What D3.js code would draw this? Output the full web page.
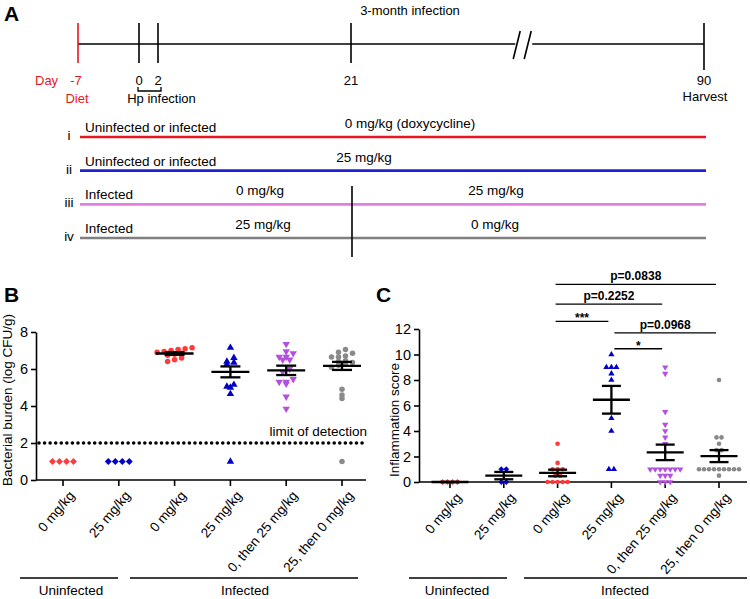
<!DOCTYPE html>
<html><head><meta charset="utf-8">
<script src="https://cdn.jsdelivr.net/npm/d3@7"></script>
<style>
body{margin:0;background:#fff}
svg{display:block;font-family:"Liberation Sans",Arial,Helvetica,sans-serif}
</style>
</head><body>
<svg id="chart" width="750" height="599"></svg>
<script>
// ================= DATA =================
// Panel A: timeline
const timelineDays = [-7, 0, 2, 21, 90];
const treatmentRows = ["i", "ii", "iii", "iv"];
const rowGroups = ["Uninfected or infected", "Uninfected or infected", "Infected", "Infected"];
const rowDoseFirst = ["0 mg/kg (doxycycline)", "25 mg/kg", "0 mg/kg", "25 mg/kg"];
const rowDoseSecond = [null, null, "25 mg/kg", "0 mg/kg"];

// Shared categories for B and C
const categoryLabels = ["0 mg/kg", "25 mg/kg", "0 mg/kg", "25 mg/kg", "0, then 25 mg/kg", "25, then 0 mg/kg"];
const groupLabels = ["Uninfected", "Infected"];

// Panel B: bacterial burden (log CFU/g)
const burdenUninf0 = [1, 1, 1, 1];
const burdenUninf25 = [1, 1, 1, 1];
const burdenInf0 = [7.15, 7.1, 7.05, 7.0, 6.95, 6.9, 6.85, 6.8, 6.75, 6.6, 6.5, 6.4];
const burdenInf25 = [7.15, 6.6, 6.4, 6.35, 6.25, 5.15, 5.05, 5.0, 4.65, 1.0];
const burdenInf0to25 = [7.35, 6.95, 6.85, 6.65, 6.65, 6.5, 6.5, 6.0, 5.85, 5.45, 5.3, 5.3, 5.2, 4.5, 3.85];
const burdenInf25to0 = [7.05, 6.9, 6.85, 6.7, 6.65, 6.65, 6.45, 6.4, 6.35, 6.3, 6.2, 6.1, 4.9, 4.6, 4.4, 1.0];
const limitOfDetection = 2;
const burdenTicks = [0, 2, 4, 6, 8];

// Panel C: inflammation score
const inflUninf0 = [0, 0, 0, 0];
const inflUninf25 = [1, 1, 0, 0];
const inflInf0 = [3, 1.5, 1, 1, 1, 0.5, 0.5, 0, 0, 0, 0, 0];
const inflInf25 = [10, 9, 9, 9, 8.5, 8, 5, 4, 1, 1];
const inflInf0to25 = [9, 8.5, 5.5, 4.5, 4, 3.5, 3, 1, 1, 1, 1, 1, 1, 1, 0.5, 0.5, 0.5, 0, 0, 0];
const inflInf25to0 = [8, 3.5, 3.5, 3, 2.5, 2.5, 1, 1, 1, 1, 1, 1, 1, 1, 1, 0.5];
const inflTicks = [0, 2, 4, 6, 8, 10, 12];

// Panel C comparisons
const compLabels = ["p=0.0838", "p=0.2252", "***", "p=0.0968", "*"];
const compFrom = [2, 2, 2, 3, 3];
const compTo = [5, 4, 3, 5, 4];

// ================= STYLE / LAYOUT =================
const svg = d3.select("#chart");
const colRed = "#ff3b3b", colBlue = "#0000c8", colPurple = "#b450e0", colGray = "#8a8a8a";
const groupColors = [colRed, colBlue, colRed, colBlue, colPurple, colGray];
const symDiamond = { draw(ctx, size) { const r = Math.sqrt(size / 2); ctx.moveTo(0, -r); ctx.lineTo(r, 0); ctx.lineTo(0, r); ctx.lineTo(-r, 0); ctx.closePath(); } };
const groupSymbols = [symDiamond, symDiamond, d3.symbolCircle, d3.symbolTriangle, "down", d3.symbolCircle];
const compHeight = [15.5, 13.95, 12.6, 11.7, 10.45];

function panelLetter(t, x, y) {
  svg.append("text").attr("x", x).attr("y", y).attr("font-size", 21).attr("font-weight", "bold").text(t);
}

// ================= PANEL A =================
panelLetter("A", 4, 21);
const xDay = d3.scaleLinear().domain(timelineDays).range([78, 139, 158, 351, 704]);
const gA = svg.append("g");
const tlY = 44;
const breakX = xDay(21) + 0.485 * (xDay(90) - xDay(21));
gA.append("line").attr("x1", xDay(-7)).attr("x2", breakX - 7).attr("y1", tlY).attr("y2", tlY).attr("stroke", "#000").attr("stroke-width", 1.6);
gA.append("line").attr("x1", breakX + 10).attr("x2", xDay(90)).attr("y1", tlY).attr("y2", tlY).attr("stroke", "#000").attr("stroke-width", 1.6);
[-9, 2].forEach(o => {
  gA.append("line").attr("x1", breakX + o).attr("y1", tlY + 15).attr("x2", breakX + o + 7).attr("y2", tlY - 13).attr("stroke", "#000").attr("stroke-width", 1.6);
});
timelineDays.forEach(d => {
  gA.append("line").attr("x1", xDay(d)).attr("x2", xDay(d)).attr("y1", 23).attr("y2", d === 90 ? 70 : 63)
    .attr("stroke", d === -7 ? "#e8161e" : "#000").attr("stroke-width", 1.6);
  gA.append("text").attr("x", xDay(d) + (d === -7 ? -2 : 0)).attr("y", 85).attr("text-anchor", "middle")
    .attr("font-size", 13).attr("fill", d === -7 ? "#e8161e" : "#000").text(d);
});
gA.append("text").attr("x", 35).attr("y", 85).attr("font-size", 13).attr("fill", "#e8161e").text("Day");
gA.append("text").attr("x", xDay(-7) - 1).attr("y", 103).attr("text-anchor", "middle").attr("font-size", 13).attr("fill", "#e8161e").text("Diet");
gA.append("path").attr("d", `M${xDay(0) - 1},87V91H${xDay(2) + 3}V87`).attr("fill", "none").attr("stroke", "#000").attr("stroke-width", 1.3);
gA.append("text").attr("x", (xDay(0) + xDay(2)) / 2 + 13).attr("y", 103).attr("text-anchor", "middle").attr("font-size", 13).text("Hp infection");
gA.append("text").attr("x", xDay(90) + 1).attr("y", 101).attr("text-anchor", "middle").attr("font-size", 13).text("Harvest");
gA.append("text").attr("x", 410).attr("y", 15).attr("text-anchor", "middle").attr("font-size", 13).text("3-month infection");

const rowY = d3.scalePoint().domain(treatmentRows).range([137, 238]);
const rowColors = ["#e8161e", "#2020d8", "#e47ce6", "#7f7f7f"];
const doseFirstX = [410, 364, 260, 263];
const doseSecondX = [null, null, 496, 495];
treatmentRows.forEach((r, i) => {
  const y = rowY(r);
  gA.append("line").attr("x1", 80).attr("x2", 706).attr("y1", y).attr("y2", y).attr("stroke", rowColors[i]).attr("stroke-width", 2.6);
  gA.append("text").attr("x", 69).attr("y", y + 3).attr("text-anchor", "middle").attr("font-size", 13.5).text(r);
  gA.append("text").attr("x", 85).attr("y", y - 5).attr("font-size", 13.5).text(rowGroups[i]);
  gA.append("text").attr("x", doseFirstX[i]).attr("y", y - 9).attr("text-anchor", "middle").attr("font-size", 13.5).text(rowDoseFirst[i]);
  if (rowDoseSecond[i]) gA.append("text").attr("x", doseSecondX[i]).attr("y", y - 9).attr("text-anchor", "middle").attr("font-size", 13.5).text(rowDoseSecond[i]);
});
gA.append("line").attr("x1", xDay(21) + 1).attr("x2", xDay(21) + 1).attr("y1", 186).attr("y2", 257).attr("stroke", "#000").attr("stroke-width", 1.6);

// ================= helpers for B/C =================
function swarm(values, yScale, cx, d, binH) {
  const pts = values.map(v => ({ v, y: yScale(v) }));
  const bins = d3.group(pts, p => Math.round(p.y / binH));
  bins.forEach(arr => {
    arr.sort((a, b) => a.v - b.v);
    const n = arr.length;
    arr.forEach((p, i) => { p.x = cx + (i - (n - 1) / 2) * d; });
  });
  return pts;
}
function symbolPath(sym, size) {
  if (sym === "down") return d3.symbol(d3.symbolTriangle, size)();
  return d3.symbol(sym, size)();
}
function drawPanel(opts) {
  const { g, x, y, groups, axisX0, axisX1, ticks, yLabel, yLabelX, yLabelY, ptSize, spread, binH, meanW, capW, lodFilter, groupSpans, groupLabelX } = opts;
  const yAxis = d3.axisLeft(y).tickValues(ticks).tickSize(5).tickSizeOuter(0).tickPadding(3);
  const ya = g.append("g").attr("transform", `translate(${axisX0},0)`).call(yAxis);
  ya.select(".domain").attr("stroke-width", 1.6);
  ya.selectAll(".tick line").attr("stroke-width", 1.6);
  ya.selectAll("text").attr("font-size", 14.5).attr("font-family", null).attr("fill", "#000");
  const y0 = y(0);
  g.append("line").attr("x1", axisX0).attr("x2", axisX1).attr("y1", y0).attr("y2", y0).attr("stroke", "#000").attr("stroke-width", 1.6);
  categoryLabels.forEach((lab, i) => {
    g.append("line").attr("x1", x(i)).attr("x2", x(i)).attr("y1", y0).attr("y2", y0 + 6).attr("stroke", "#000").attr("stroke-width", 1.6);
    g.append("text").attr("transform", `translate(${x(i) + 5},${y0 + 10}) rotate(-50)`).attr("text-anchor", "end")
      .attr("dy", "0.7em").attr("font-size", 13.5).text(lab);
  });
  g.append("text").attr("transform", `translate(${yLabelX},${yLabelY}) rotate(-90)`).attr("text-anchor", "middle").attr("font-size", 13.5).text(yLabel);
  groups.forEach((vals, i) => {
    const pts = swarm(vals, y, x(i), spread, binH);
    g.append("g").selectAll("path").data(pts).join("path")
      .attr("transform", p => `translate(${p.x},${p.y})` + (groupSymbols[i] === "down" ? " rotate(180)" : ""))
      .attr("d", symbolPath(groupSymbols[i], ptSize))
      .attr("fill", groupColors[i]);
    const used = lodFilter ? vals.filter(v => v > limitOfDetection) : vals;
    if (lodFilter && used.length === 0) return;
    const m = d3.mean(used), se = used.length > 1 ? d3.deviation(used) / Math.sqrt(used.length) : 0;
    const cx = x(i);
    const eg = g.append("g").attr("stroke", "#000").attr("stroke-width", 2.3).attr("fill", "none");
    eg.append("line").attr("x1", cx - meanW).attr("x2", cx + meanW).attr("y1", y(m)).attr("y2", y(m));
    eg.append("line").attr("x1", cx).attr("x2", cx).attr("y1", y(m - se)).attr("y2", y(m + se));
    [m - se, m + se].forEach(v => eg.append("line").attr("x1", cx - capW).attr("x2", cx + capW).attr("y1", y(v)).attr("y2", y(v)));
  });
  groupLabels.forEach((lab, k) => {
    g.append("line").attr("x1", groupSpans[k][0]).attr("x2", groupSpans[k][1]).attr("y1", 578).attr("y2", 578).attr("stroke", "#000").attr("stroke-width", 1.6);
    g.append("text").attr("x", groupLabelX[k]).attr("y", 595).attr("text-anchor", "middle").attr("font-size", 13.5).text(lab);
  });
}

// ================= PANEL B =================
panelLetter("B", 4, 302);
const gB = svg.append("g");
const xB = d3.scalePoint().domain(d3.range(categoryLabels.length)).range([63, 342]);
const yB = d3.scaleLinear().domain([0, 8]).range([480, 332]);
gB.append("line").attr("x1", 39).attr("x2", 366).attr("y1", yB(limitOfDetection)).attr("y2", yB(limitOfDetection))
  .attr("stroke", "#000").attr("stroke-width", 3.6).attr("stroke-linecap", "round").attr("stroke-dasharray", "0 5.57");
gB.append("text").attr("x", 367).attr("y", yB(limitOfDetection) - 7).attr("text-anchor", "end").attr("font-size", 13.5).text("limit of detection");
drawPanel({
  g: gB, x: xB, y: yB,
  groups: [burdenUninf0, burdenUninf25, burdenInf0, burdenInf25, burdenInf0to25, burdenInf25to0],
  axisX0: 36, axisX1: 366, ticks: burdenTicks,
  yLabel: "Bacterial burden (log CFU/g)", yLabelX: 12, yLabelY: 400,
  ptSize: 24, spread: 7, binH: 5, meanW: 19, capW: 10, lodFilter: true,
  groupSpans: [[20, 118], [130, 358]], groupLabelX: [71, 245]
});

// ================= PANEL C =================
panelLetter("C", 376, 302);
const gC = svg.append("g");
const xC = d3.scalePoint().domain(d3.range(categoryLabels.length)).range([450, 719]);
const yC = d3.scaleLinear().domain([0, 12]).range([482, 329]);
drawPanel({
  g: gC, x: xC, y: yC,
  groups: [inflUninf0, inflUninf25, inflInf0, inflInf25, inflInf0to25, inflInf25to0],
  axisX0: 419, axisX1: 747, ticks: inflTicks,
  yLabel: "Inflammation score", yLabelX: 399, yLabelY: 420,
  ptSize: 17, spread: 5, binH: 4, meanW: 18.5, capW: 9.5, lodFilter: false,
  groupSpans: [[409, 507], [524, 747]], groupLabelX: [457, 625]
});
compLabels.forEach((lab, i) => {
  const yy = yC(compHeight[i]);
  const x1 = xC(compFrom[i]) + (compFrom[i] === 2 ? -2 : 3);
  const x2 = xC(compTo[i]) - 3;
  gC.append("line").attr("x1", x1).attr("x2", x2).attr("y1", yy).attr("y2", yy).attr("stroke", "#000").attr("stroke-width", 1.3);
  const star = lab.indexOf("*") >= 0;
  gC.append("text").attr("x", (x1 + x2) / 2).attr("y", star ? yy + 1 : yy - 4).attr("text-anchor", "middle")
    .attr("font-size", 12).attr("font-weight", "bold").text(lab);
});
</script>
</body></html>
